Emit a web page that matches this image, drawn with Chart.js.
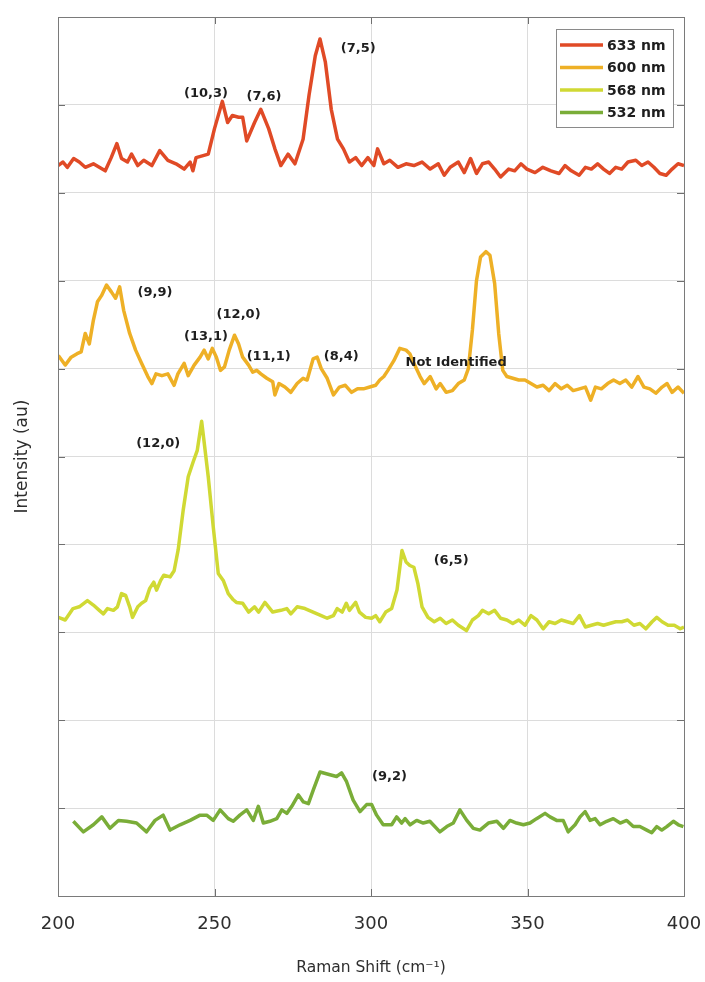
<!DOCTYPE html>
<html>
<head>
<meta charset="utf-8">
<script src="https://cdn.jsdelivr.net/npm/chart.js@4.4.1/dist/chart.umd.min.js"></script>
<style>
  html, body { margin: 0; padding: 0; background: #fff; }
</style>
</head>
<body>
<canvas id="raman" width="705" height="982"></canvas>
<script>
// Raman shift (cm-1) and stacked intensities
const shift633 = [200,201.6,203,205,206.8,208.7,211.3,213.2,215.1,217,218.8,220.3,222.2,223.5,225.5,227.4,230,232.5,235.1,237.7,240.3,242.2,243.1,244.1,246.1,248,250,252.5,254.2,255.7,257.7,259,260.3,262.8,264.8,267.3,269.3,271.2,273.5,275.7,278.3,280.2,282.2,283.7,285.4,287.3,289.3,291.2,293.1,295.1,297,299,300.9,302.1,304.1,306,308.6,311.2,313.7,316.3,318.9,321.5,323.4,325.3,327.9,329.8,331.8,333.7,335.6,337.6,339.5,341.4,344,345.9,347.9,349.8,352.4,354.9,357.5,360.1,362,364,366.5,368.5,370.4,372.4,374.3,376.2,378.2,380.1,382.1,384.6,386.5,388.5,390.4,392.3,394.3,396.2,398.1,400];
const int633 = [8.31,8.35,8.29,8.39,8.35,8.29,8.33,8.29,8.25,8.40,
  8.56,8.39,8.35,8.44,8.31,8.37,8.31,8.48,8.37,8.33,
  8.27,8.35,8.25,8.40,8.42,8.44,8.73,9.04,8.80,8.88,
  8.86,8.86,8.59,8.80,8.95,8.73,8.50,8.31,8.44,8.33,
  8.61,9.11,9.56,9.75,9.49,8.95,8.61,8.50,8.35,8.40,
  8.31,8.40,8.31,8.50,8.33,8.37,8.29,8.33,8.31,8.35,
  8.27,8.33,8.20,8.29,8.35,8.23,8.39,8.22,8.33,8.35,
  8.27,8.18,8.27,8.25,8.33,8.27,8.23,8.29,8.25,8.22,
  8.31,8.25,8.20,8.29,8.27,8.33,8.27,8.22,8.29,8.27,
  8.35,8.37,8.31,8.35,8.29,8.22,8.20,8.27,8.33,8.31];

const shift600 = [200.1,202.3,204.2,206.1,207.4,208.7,210,211.3,212.6,213.9,
  215.5,217.1,218.4,219.7,221,222.9,224.8,226.7,228.7,230,
  231.3,233.2,235.1,237.1,238.3,240.3,241.6,243.5,245.4,246.7,
  248,249.3,250.6,251.9,253.2,254.7,256.4,257.7,259,260.9,
  262.2,263.5,264.8,266.7,268.6,269.3,270.6,272.5,274.4,276.4,
  278.3,279.6,281.5,282.8,284.1,286,288,289.9,291.8,293.8,
  295.7,297.6,299.6,301.5,302.8,304.1,305.4,307.3,309.2,311.2,
  312.4,313.7,315.7,317,318.9,320.8,322.1,324,326,327.9,
  329.8,331.1,332.4,333.7,335,336.7,338,339.5,340.8,342.1,
  343.4,345.3,347.2,349.2,351.1,353,355,356.9,358.8,360.8,
  362.7,364.6,366.6,368.5,370.2,371.7,373.6,375.6,377.5,379.5,
  381.4,383.3,385.3,387.2,389.1,391,393,394.6,396.2,398.1,
  400];
const int600 = [6.15,6.04,6.13,6.17,6.19,6.40,6.28,6.55,6.76,6.83,
  6.95,6.87,6.80,6.93,6.66,6.40,6.21,6.06,5.91,5.83,
  5.94,5.92,5.94,5.81,5.94,6.06,5.92,6.04,6.13,6.21,
  6.11,6.23,6.13,5.98,6.02,6.21,6.38,6.28,6.13,6.04,
  5.96,5.98,5.94,5.89,5.85,5.70,5.83,5.79,5.73,5.83,
  5.89,5.87,6.11,6.13,6.00,5.89,5.70,5.79,5.81,5.73,
  5.77,5.77,5.79,5.81,5.87,5.91,5.98,6.09,6.23,6.21,
  6.17,6.06,5.91,5.83,5.91,5.77,5.83,5.73,5.75,5.83,
  5.87,6.00,6.44,7.00,7.27,7.33,7.29,6.97,6.40,5.98,
  5.91,5.89,5.87,5.87,5.83,5.79,5.81,5.75,5.83,5.77,
  5.81,5.75,5.77,5.79,5.64,5.79,5.77,5.83,5.87,5.83,
  5.87,5.79,5.91,5.79,5.77,5.72,5.79,5.83,5.73,5.79,
  5.72];

const shift568 = [200.1,202.3,204.8,206.8,209.4,211.3,213.2,214.5,215.8,217.7,219,220.3,221.6,222.9,223.8,225.5,226.7,228,229.3,230.6,231.5,232.8,233.8,235.8,237.1,
  238.4,240,241.6,243.2,244.5,245.9,246.6,248,249.6,251.2,252.8,254.4,256,
  257,259,260.9,262.8,264.1,266.1,268.6,271.2,273.1,274.4,
  276.4,278.9,281.5,284.1,286,288,289.2,290.8,292.1,293.1,
  295.1,296.3,298.3,300.2,301.5,302.8,304.7,306.6,308.3,309.9,
  311.2,312.4,313.7,315,316.3,318.2,320.2,322.1,324,326,
  327.9,330.5,332.4,334.3,335.6,337.6,339.5,341.4,343.4,345.3,
  347.2,349.2,351.1,353,355,356.9,358.8,360.8,362.7,364.6,
  366.6,368.5,370.4,372.4,374.3,376.2,378.2,380.1,382,384,
  385.9,387.8,389.8,391.3,393,394.9,396.9,398.8,400];
const int568 = [3.17,3.14,3.27,3.29,3.36,3.31,3.25,3.21,3.27,3.25,3.29,3.44,3.42,3.29,3.17,3.29,3.33,3.36,3.50,3.57,3.48,3.59,3.65,3.63,3.70,
  3.94,4.39,4.77,4.94,5.07,5.40,5.19,4.77,4.20,3.67,3.59,3.44,3.37,
  3.34,3.33,3.23,3.29,3.23,3.34,3.23,3.25,3.27,3.21,
  3.29,3.27,3.23,3.19,3.16,3.19,3.27,3.23,3.33,3.25,
  3.34,3.23,3.17,3.16,3.19,3.12,3.23,3.27,3.48,3.93,
  3.80,3.76,3.74,3.55,3.29,3.17,3.12,3.16,3.10,3.14,
  3.08,3.02,3.14,3.19,3.25,3.21,3.25,3.16,3.14,3.10,
  3.14,3.08,3.19,3.14,3.04,3.12,3.10,3.14,3.12,3.10,
  3.19,3.06,3.08,3.10,3.08,3.10,3.12,3.12,3.14,3.08,
  3.10,3.04,3.12,3.17,3.12,3.08,3.08,3.04,3.06];

const shift532 = [204.9,208.1,211.3,214,216.6,219.3,221.9,225.1,228.3,231,
  233.6,235.8,239,242.2,245.4,247.5,249.6,251.8,254.4,256,
  258.1,260.3,262.4,264,265.6,267.7,269.9,271.5,273.1,274.7,
  276.8,278.4,280,281.6,283.7,286.9,289,290.6,292.2,294.3,296.5,
  298.6,300.2,301.8,303.9,306.6,308.2,309.8,310.9,312.5,314.6,
  316.7,318.8,322,324.2,326.3,328.4,330.6,332.7,334.8,337.5,
  340.2,342.3,344.4,346.5,348.7,350.8,352.9,355.6,357.2,359.3,
  361.4,363,365.2,366.8,368.4,370,371.6,373.2,375.3,377.4,
  379.6,381.7,383.8,385.9,388.1,389.7,391.3,392.9,394.5,396.6,
  398.2,399.8];
const int532 = [0.85,0.73,0.81,0.90,0.77,0.86,0.85,0.83,0.73,0.86,
  0.92,0.75,0.81,0.86,0.92,0.92,0.86,0.98,0.88,0.85,
  0.92,0.98,0.86,1.02,0.83,0.85,0.88,0.98,0.94,1.02,
  1.15,1.07,1.05,1.21,1.41,1.38,1.36,1.40,1.30,1.09,0.96,
  1.04,1.04,0.92,0.81,0.81,0.90,0.83,0.88,0.81,0.86,
  0.83,0.85,0.73,0.79,0.83,0.98,0.86,0.77,0.75,0.83,
  0.85,0.77,0.86,0.83,0.81,0.83,0.88,0.94,0.90,0.86,
  0.86,0.73,0.81,0.90,0.96,0.86,0.88,0.81,0.85,0.88,
  0.83,0.86,0.79,0.79,0.75,0.72,0.79,0.75,0.79,0.85,
  0.81,0.79];

const seriesLabels = ['633 nm', '600 nm', '568 nm', '532 nm'];
const seriesColors = ['#e04a26', '#eeb026', '#d0d934', '#7aad38'];
const xTicks = [200, 250, 300, 350, 400];

// chirality labels placed at (shift, intensity)
const peakText = ['(7,5)', '(10,3)', '(7,6)', '(9,9)', '(12,0)', '(13,1)', '(11,1)', '(8,4)', 'Not Identified', '(12,0)', '(6,5)', '(9,2)'];
const peakX = [295.9, 247.3, 265.8, 231, 257.7, 247.3, 267.3, 290.5, 327.2, 232, 325.6, 305.9];
const peakY = [9.64, 9.13, 9.09, 6.86, 6.61, 6.36, 6.14, 6.14, 6.07, 5.15, 3.81, 1.36];

const FONT = "'DejaVu Sans', Verdana, sans-serif";

function toPoints(xs, ys) {
  return xs.map((x, i) => ({ x: x, y: ys[i] }));
}

const spectra = [[shift633, int633], [shift600, int600], [shift568, int568], [shift532, int532]];

// axes box with inward tick marks, drawn over the lines like MATLAB
const framePlugin = {
  id: 'frame',
  afterDatasetsDraw(chart) {
    const { ctx, chartArea: a, scales } = chart;
    ctx.save();
    ctx.strokeStyle = '#6f6f6f';
    ctx.lineWidth = 1;
    ctx.beginPath();
    scales.y.ticks.forEach(t => {
      const py = Math.round(scales.y.getPixelForValue(t.value)) + 0.5;
      ctx.moveTo(a.left, py); ctx.lineTo(a.left + 7, py);
      ctx.moveTo(a.right, py); ctx.lineTo(a.right - 7, py);
    });
    scales.x.ticks.forEach(t => {
      const px = Math.round(scales.x.getPixelForValue(t.value)) + 0.5;
      ctx.moveTo(px, a.bottom); ctx.lineTo(px, a.bottom - 7);
      ctx.moveTo(px, a.top); ctx.lineTo(px, a.top + 7);
    });
    ctx.stroke();
    ctx.strokeStyle = '#7a7a7a';
    ctx.strokeRect(Math.round(a.left) + 0.5, Math.round(a.top) + 0.5,
      Math.round(a.right - a.left), Math.round(a.bottom - a.top));
    ctx.restore();
  }
};

const peakPlugin = {
  id: 'peaks',
  afterDraw(chart) {
    const { ctx, scales } = chart;
    ctx.save();
    ctx.font = 'bold 13px ' + FONT;
    ctx.fillStyle = '#1e1e1e';
    ctx.textAlign = 'center';
    ctx.textBaseline = 'middle';
    peakText.forEach((txt, i) => {
      ctx.fillText(txt, scales.x.getPixelForValue(peakX[i]), scales.y.getPixelForValue(peakY[i]));
    });
    ctx.restore();
  }
};

const legendPlugin = {
  id: 'boxLegend',
  afterDraw(chart) {
    const { ctx, chartArea: a } = chart;
    const w = 117, h = 98;
    const left = a.right - 11 - w, top = a.top + 12;
    ctx.save();
    ctx.fillStyle = '#fff';
    ctx.fillRect(left, top, w, h);
    ctx.strokeStyle = '#8a8a8a';
    ctx.lineWidth = 1;
    ctx.strokeRect(left + 0.5, top + 0.5, w, h);
    ctx.font = 'bold 14px ' + FONT;
    ctx.textBaseline = 'middle';
    chart.data.datasets.forEach((ds, i) => {
      const cy = top + 16 + i * 22.5;
      ctx.strokeStyle = ds.borderColor;
      ctx.lineWidth = 3.5;
      ctx.beginPath();
      ctx.moveTo(left + 4, cy); ctx.lineTo(left + 47, cy);
      ctx.stroke();
      ctx.fillStyle = '#1e1e1e';
      ctx.fillText(ds.label, left + 51, cy + 1);
    });
    ctx.restore();
  }
};

new Chart(document.getElementById('raman'), {
  type: 'line',
  data: {
    datasets: spectra.map((s, i) => ({
      label: seriesLabels[i],
      data: toPoints(s[0], s[1]),
      borderColor: seriesColors[i],
      backgroundColor: seriesColors[i],
      borderWidth: 3.5,
      borderJoinStyle: 'round',
      pointRadius: 0,
      tension: 0,
      fill: false
    }))
  },
  options: {
    responsive: false,
    animation: false,
    devicePixelRatio: 1,
    layout: { padding: { left: 4, right: 21, top: 17, bottom: 0 } },
    plugins: { legend: { display: false }, tooltip: { enabled: false } },
    scales: {
      x: {
        type: 'linear',
        min: 200,
        max: 400,
        afterBuildTicks: scale => { scale.ticks = xTicks.map(v => ({ value: v })); },
        afterFit: scale => { scale.height = 86; scale.paddingLeft = 0; scale.paddingRight = 0; },
        ticks: { color: '#2e2e2e', padding: 18, font: { family: FONT, size: 18 } },
        grid: { color: '#dcdcdc', drawTicks: false },
        border: { display: false },
        title: {
          display: true,
          text: 'Raman Shift (cm\u207B\u00B9)',
          color: '#2e2e2e',
          font: { family: FONT, size: 15.5 },
          padding: { top: 25, bottom: 5 }
        }
      },
      y: {
        min: 0,
        max: 10,
        ticks: { display: false, stepSize: 1 },
        grid: { color: '#dcdcdc', drawTicks: false },
        border: { display: false },
        title: {
          display: true,
          text: 'Intensity (au)',
          color: '#2e2e2e',
          font: { family: FONT, size: 17 },
          padding: { top: 8, bottom: 25.6 }
        }
      }
    }
  },
  plugins: [framePlugin, peakPlugin, legendPlugin]
});
</script>
</body>
</html>
